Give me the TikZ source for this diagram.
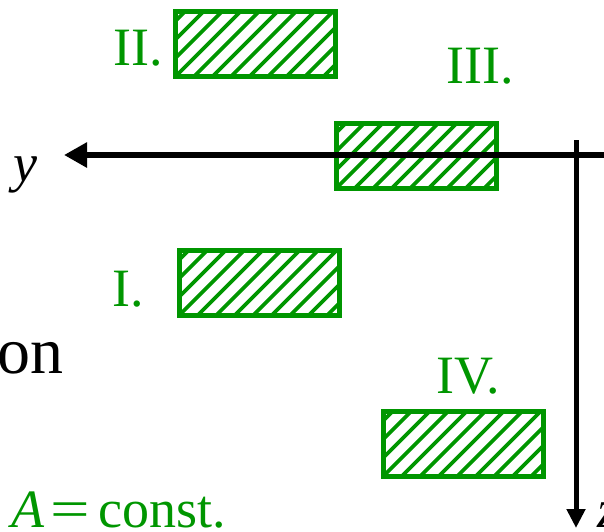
\documentclass[tikz,border=0pt]{standalone}
\usepackage{fontspec}
\setmainfont{Liberation Serif}
\usetikzlibrary{arrows.meta}
\definecolor{hgreen}{RGB}{0,150,0}
\tikzset{
  hbox/.style={draw=hgreen, line width=5pt, minimum width=160pt, minimum height=65pt, inner sep=0pt,
    path picture={\foreach \i in {-5,...,10}
      \draw[hgreen, line width=3.6pt] ([xshift=\i*18.5pt]path picture bounding box.south west) -- ++(90pt,90pt);}},
  glabel/.style={text=hgreen, font=\fontsize{54}{60}\selectfont, inner sep=0pt},
  axis/.style={line width=#1, black},
}
\begin{document}
\begin{tikzpicture}[x=1pt,y=-1pt]
\useasboundingbox (0,0) rectangle (604,531);
% boxes
\node[hbox] (b2) at (255.5,44) {};
\node[hbox] (b3) at (416,156) {};
\node[hbox] (b1) at (259.5,282.5) {};
\node[hbox] (b4) at (463.5,443.5) {};
% labels
\node[glabel, anchor=base east] (l2) at (163,65) {II.};
\node[glabel, anchor=base west] (l3) at (446,83) {III.};
\node[glabel, anchor=base east] (l1) at (144,306) {I.};
\node[glabel, anchor=base west] (l4) at (436,393) {IV.};
\node[text=hgreen, font=\fontsize{54}{60}\selectfont, inner sep=0pt, anchor=base west] (ac) at (11,527)
  {\textit{A}\hspace{6pt}\scalebox{1.3}[1]{=}\hspace{9pt}const.};
\node[font=\fontsize{66}{76}\selectfont, inner sep=0pt, anchor=base west] (on) at (-3,373) {on};
% axes
\coordinate (zs) at (576,140);
\coordinate (zt) at (576,528);
\draw[axis=5pt, -{Triangle[length=19pt,width=18pt]}] (zs) -- (zt);
\coordinate (ys) at (606,155);
\coordinate (yt) at (64,155);
\draw[axis=6pt, -{Triangle[length=23pt,width=24pt]}] (ys) -- (yt);
\node[font=\fontsize{54}{60}\selectfont\itshape, inner sep=0pt, anchor=base west] (ylab) at (13,181) {y};
\node[font=\fontsize{54}{60}\selectfont\itshape, inner sep=0pt, anchor=base west] (zlab) at (597,527) {z};
\end{tikzpicture}
\end{document}
